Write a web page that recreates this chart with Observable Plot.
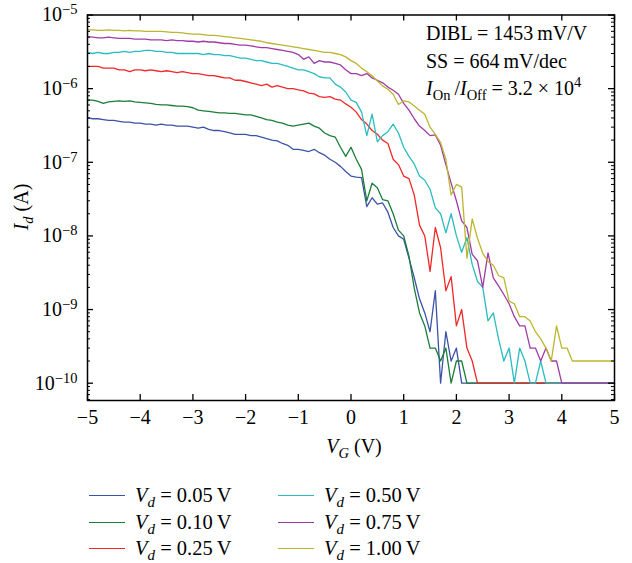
<!DOCTYPE html>
<html><head><meta charset="utf-8">
<script src="https://cdn.jsdelivr.net/npm/d3@7"></script>
<script src="https://cdn.jsdelivr.net/npm/@observablehq/plot@0.6"></script>
<style>
body{margin:0;background:#fff;font-family:"Liberation Serif","Times New Roman",serif;color:#000;}
#wrap{position:relative;width:632px;height:563px;}
#legend{position:absolute;left:89px;top:482px;display:grid;grid-template-columns:189px 200px;grid-auto-flow:column;grid-template-rows:repeat(3,26.7px);font-size:20.5px;}
.item{display:flex;align-items:center;white-space:nowrap;}
.sw{width:36px;height:0;border-top:1.4px solid;margin-right:10px;}
.item sub{font-size:15px;vertical-align:-5px;line-height:0;}
</style></head><body><div id="wrap"><div id="chart"></div><div id="legend"></div></div>
<script>
const Vg = [-5.0,-4.9,-4.8,-4.7,-4.6,-4.5,-4.4,-4.3,-4.2,-4.1,
-4.0,-3.9,-3.8,-3.7,-3.6,-3.5,-3.4,-3.3,-3.2,-3.1,
-3.0,-2.9,-2.8,-2.7,-2.6,-2.5,-2.4,-2.3,-2.2,-2.1,
-2.0,-1.9,-1.8,-1.7,-1.6,-1.5,-1.4,-1.3,-1.2,-1.1,
-1.0,-0.9,-0.8,-0.7,-0.6,-0.5,-0.4,-0.3,-0.2,-0.1,
0.0,0.1,0.2,0.3,0.4,0.5,0.6,0.7,0.8,0.9,
1.0,1.1,1.2,1.3,1.4,1.5,1.6,1.7,1.8,1.9,
2.0,2.1,2.2,2.3,2.4,2.5,2.6,2.7,2.8,2.9,
3.0,3.1,3.2,3.3,3.4,3.5,3.6,3.7,3.8,3.9,
4.0,4.1,4.2,4.3,4.4,4.5,4.6,4.7,4.8,4.9,5.0];

const vdLabels = ["0.05","0.10","0.25","0.50","0.75","1.00"];
const vdColors = ["#3c53a8","#1b7d3a","#f0282a","#2bbcc0","#a03ca6","#bcb52d"];

const Id005 = [4.0e-7,3.9e-7,3.9e-7,3.8e-7,3.7e-7,3.7e-7,3.6e-7,3.5e-7,3.5e-7,3.4e-7,
3.4e-7,3.3e-7,3.3e-7,3.2e-7,3.3e-7,3.2e-7,3.2e-7,3.1e-7,3.1e-7,3.1e-7,
3.0e-7,2.9e-7,3.0e-7,2.8e-7,2.7e-7,2.7e-7,2.6e-7,2.5e-7,2.4e-7,2.4e-7,
2.4e-7,2.3e-7,2.3e-7,2.2e-7,2.1e-7,2.0e-7,1.95e-7,1.8e-7,1.7e-7,1.5e-7,
1.5e-7,1.45e-7,1.4e-7,1.5e-7,1.35e-7,1.25e-7,1.1e-7,1.0e-7,8.8e-8,7.5e-8,
6.5e-8,6.3e-8,6.2e-8,2.5e-8,3.3e-8,2.7e-8,2.8e-8,2.1e-8,1.3e-8,1.0e-8,
9.0e-9,5.0e-9,2.7e-9,1.4e-9,9e-10,5e-10,1.8e-9,1e-10,5e-10,2e-10,
3e-10,1e-10,1e-10,1e-10,1e-10,1e-10,1e-10,1e-10,1e-10,1e-10,
1e-10,1e-10,1e-10,1e-10,1e-10,1e-10,1e-10,1e-10,1e-10,1e-10,
1e-10,1e-10,1e-10,1e-10,1e-10,1e-10,1e-10,1e-10,1e-10,1e-10,1e-10];

const Id010 = [7.0e-7,7.0e-7,6.7e-7,6.3e-7,6.6e-7,6.7e-7,6.8e-7,6.7e-7,6.8e-7,6.6e-7,
6.5e-7,6.4e-7,6.3e-7,6.1e-7,6.0e-7,6.0e-7,5.9e-7,5.8e-7,5.8e-7,5.7e-7,
5.5e-7,5.1e-7,5.0e-7,4.9e-7,4.8e-7,4.7e-7,4.7e-7,4.6e-7,4.6e-7,4.5e-7,
4.4e-7,4.4e-7,4.2e-7,4.0e-7,3.8e-7,3.7e-7,3.5e-7,3.4e-7,3.2e-7,3.1e-7,
3.2e-7,3.3e-7,3.4e-7,3.1e-7,2.9e-7,2.5e-7,2.3e-7,2.2e-7,1.6e-7,1.2e-7,
1.6e-7,1.1e-7,8.0e-8,3.0e-8,5.2e-8,4.5e-8,3.1e-8,3.0e-8,2.0e-8,1.2e-8,
1.0e-8,5.3e-9,1.95e-9,9e-10,6e-10,3e-10,3e-10,2e-10,3e-10,1e-10,
2e-10,2e-10,1e-10,1e-10,1e-10,1e-10,1e-10,1e-10,1e-10,1e-10,
1e-10,1e-10,1e-10,1e-10,1e-10,1e-10,1e-10,1e-10,1e-10,1e-10,
1e-10,1e-10,1e-10,1e-10,1e-10,1e-10,1e-10,1e-10,1e-10,1e-10,1e-10];

const Id025 = [2.0e-6,2.0e-6,2.0e-6,1.9e-6,1.9e-6,1.9e-6,1.8e-6,1.8e-6,1.7e-6,1.8e-6,
1.8e-6,1.75e-6,1.8e-6,1.75e-6,1.7e-6,1.75e-6,1.7e-6,1.65e-6,1.7e-6,1.65e-6,
1.6e-6,1.6e-6,1.55e-6,1.5e-6,1.5e-6,1.45e-6,1.4e-6,1.4e-6,1.3e-6,1.3e-6,
1.25e-6,1.2e-6,1.15e-6,1.1e-6,1.15e-6,1.05e-6,1.1e-6,1.05e-6,1.0e-6,1.0e-6,
9.6e-7,9.3e-7,8.7e-7,8.5e-7,7.8e-7,7.6e-7,7.8e-7,7.2e-7,7.0e-7,6.2e-7,
5.6e-7,4.8e-7,3.8e-7,3.3e-7,2.7e-7,2.4e-7,2.0e-7,1.8e-7,1.1e-7,9.3e-8,
6.5e-8,6.0e-8,3.6e-8,1.4e-8,1.0e-8,3.3e-9,1.3e-8,6.9e-9,1.8e-9,2.8e-9,
6e-10,1e-9,3e-10,2e-10,1e-10,1e-10,1e-10,1e-10,1e-10,1e-10,
1e-10,1e-10,1e-10,1e-10,1e-10,1e-10,1e-10,1e-10,1e-10,1e-10,
1e-10,1e-10,1e-10,1e-10,1e-10,1e-10,1e-10,1e-10,1e-10,1e-10,1e-10];

const Id050 = [3.1e-6,3.0e-6,3.1e-6,3.0e-6,3.0e-6,3.1e-6,3.1e-6,3.2e-6,3.1e-6,3.2e-6,
3.2e-6,3.3e-6,3.3e-6,3.2e-6,3.2e-6,3.1e-6,3.1e-6,3.0e-6,3.0e-6,3.0e-6,
3.0e-6,3.0e-6,2.9e-6,3.0e-6,2.9e-6,2.9e-6,2.8e-6,2.8e-6,2.7e-6,2.6e-6,
2.6e-6,2.5e-6,2.4e-6,2.4e-6,2.3e-6,2.2e-6,2.2e-6,2.1e-6,2.0e-6,1.9e-6,
1.8e-6,1.8e-6,1.7e-6,1.6e-6,1.45e-6,1.4e-6,1.4e-6,1.15e-6,1.05e-6,9.0e-7,
7.0e-7,6.5e-7,4.8e-7,2.3e-7,4.5e-7,1.9e-7,2.3e-7,2.6e-7,3.3e-7,2.5e-7,
1.6e-7,1.2e-7,9.5e-8,6.5e-8,5.7e-8,4.3e-8,2.4e-8,2.0e-8,1.1e-8,2.0e-8,
1.0e-8,6.0e-9,9.5e-9,4.1e-9,2.4e-9,2.0e-9,7e-10,9e-10,4e-10,2e-10,
3e-10,1e-10,3e-10,2e-10,1e-10,1e-10,2e-10,1e-10,1e-10,1e-10,
1e-10,1e-10,1e-10,1e-10,1e-10,1e-10,1e-10,1e-10,1e-10,1e-10,1e-10];

const Id075 = [5.1e-6,5.0e-6,4.9e-6,4.9e-6,5.0e-6,4.9e-6,4.8e-6,4.8e-6,4.8e-6,4.7e-6,
4.7e-6,4.7e-6,4.6e-6,4.6e-6,4.6e-6,4.5e-6,4.6e-6,4.5e-6,4.5e-6,4.4e-6,
4.4e-6,4.3e-6,4.4e-6,4.3e-6,4.3e-6,4.2e-6,4.1e-6,4.1e-6,4.0e-6,3.9e-6,
3.9e-6,3.8e-6,3.7e-6,3.6e-6,3.6e-6,3.5e-6,3.4e-6,3.3e-6,3.2e-6,3.1e-6,
2.9e-6,2.5e-6,2.7e-6,2.2e-6,2.4e-6,2.3e-6,2.3e-6,2.2e-6,2.1e-6,1.8e-6,
1.6e-6,1.6e-6,1.5e-6,1.6e-6,1.4e-6,1.3e-6,1.2e-6,1.05e-6,9.5e-7,8.4e-7,
6.3e-7,5.1e-7,3.9e-7,3.1e-7,2.7e-7,2.3e-7,2.35e-7,1.7e-7,9.3e-8,5.2e-8,
3.0e-8,1.6e-8,1.3e-8,5.6e-9,4.6e-9,2.0e-9,5.9e-9,2.7e-9,2.1e-9,1.6e-9,
1.2e-9,8e-10,6e-10,6e-10,3e-10,3e-10,2e-10,3e-10,2e-10,2e-10,
1e-10,1e-10,1e-10,1e-10,1e-10,1e-10,1e-10,1e-10,1e-10,1e-10,1e-10];

const Id100 = [6.3e-6,6.3e-6,6.2e-6,6.2e-6,6.3e-6,6.2e-6,6.2e-6,6.1e-6,6.2e-6,6.1e-6,
6.1e-6,6.0e-6,6.0e-6,6.0e-6,6.0e-6,5.9e-6,5.8e-6,5.8e-6,5.7e-6,5.6e-6,
5.5e-6,5.5e-6,5.4e-6,5.3e-6,5.3e-6,5.2e-6,5.1e-6,5.0e-6,4.9e-6,4.8e-6,
4.7e-6,4.6e-6,4.5e-6,4.4e-6,4.2e-6,4.1e-6,4.0e-6,3.9e-6,3.8e-6,3.7e-6,
3.6e-6,3.5e-6,3.4e-6,3.3e-6,3.2e-6,3.1e-6,3.1e-6,3.0e-6,2.9e-6,2.7e-6,
2.4e-6,2.2e-6,1.9e-6,1.7e-6,1.5e-6,1.27e-6,1.09e-6,9.8e-7,8.4e-7,6.1e-7,
6.8e-7,6.6e-7,5.8e-7,5.1e-7,4.5e-7,3.0e-7,2.4e-7,1.85e-7,1.1e-7,3.6e-8,
5.0e-8,4.6e-8,5.0e-9,1.7e-8,9.3e-9,5.8e-9,4.5e-9,4.0e-9,2.9e-9,2.7e-9,
1.3e-9,1.2e-9,8e-10,8e-10,7e-10,5e-10,4e-10,3e-10,2e-10,6e-10,
3e-10,3e-10,2e-10,2e-10,2e-10,2e-10,2e-10,2e-10,2e-10,2e-10,2e-10];

const xTicks = [-5,-4,-3,-2,-1,0,1,2,3,4,5];
const yTicks = [1e-10,1e-9,1e-8,1e-7,1e-6,1e-5];
const yMinorMantissas = [2,3,4,5,6,7,8,9];
const xDomain = [-5, 5];
const yDomain = [5.82e-11, 1e-5];

const series = [Id005, Id010, Id025, Id050, Id075, Id100];
const rows = series.flatMap((s, k) => s.map((v, i) => ({Vg: Vg[i], Id: v, Vd: vdLabels[k]})));
const yMinor = [1e-11, ...yTicks].flatMap(d => yMinorMantissas.map(m => m * d))
  .filter(v => v > yDomain[0] && v < yDomain[1]);

// layout
const W = 632, H = 470, mL = 87, mR = 18, mT = 14.5, mB = 70;
const pw = W - mL - mR, ph = H - mT - mB;
// convert an inward tick length in pixels into data units of each scale
const dxTick = px => px * (xDomain[1] - xDomain[0]) / pw;
const yTickF = px => 10 ** (px * Math.log10(yDomain[1] / yDomain[0]) / ph);

const plot = Plot.plot({
  width: W, height: H,
  marginLeft: mL, marginRight: mR, marginTop: mT, marginBottom: mB,
  style: {fontFamily: "'Liberation Serif','Times New Roman',serif", fontSize: "20px", color: "#000", background: "#fff", overflow: "visible"},
  x: {domain: xDomain},
  y: {type: "log", domain: yDomain},
  color: {domain: vdLabels, range: vdColors},
  marks: [
    Plot.lineY(rows, {x: "Vg", y: "Id", stroke: "Vd", strokeWidth: 1.3}),
    // inward ticks on all four sides
    Plot.ruleX(xTicks, {x: d => d, y1: yDomain[0], y2: yDomain[0] * yTickF(6), stroke: "#000", strokeWidth: 1.3}),
    Plot.ruleX(xTicks, {x: d => d, y1: yDomain[1], y2: yDomain[1] / yTickF(6), stroke: "#000", strokeWidth: 1.3}),
    Plot.ruleY(yTicks, {y: d => d, x1: xDomain[0], x2: xDomain[0] + dxTick(6), stroke: "#000", strokeWidth: 1.3}),
    Plot.ruleY(yTicks, {y: d => d, x1: xDomain[1], x2: xDomain[1] - dxTick(6), stroke: "#000", strokeWidth: 1.3}),
    Plot.ruleY(yMinor, {y: d => d, x1: xDomain[0], x2: xDomain[0] + dxTick(3), stroke: "#000", strokeWidth: 1}),
    Plot.ruleY(yMinor, {y: d => d, x1: xDomain[1], x2: xDomain[1] - dxTick(3), stroke: "#000", strokeWidth: 1}),
    Plot.axisX(xTicks, {anchor: "bottom", tickSize: 0, tickPadding: 9.5, label: null, tickFormat: d => d < 0 ? "\u2212" + Math.abs(d) : String(d)}),
    Plot.axisY(yTicks, {anchor: "left", tickSize: 0, tickPadding: 10, label: null, tickFormat: d => "E" + Math.round(Math.log10(d))}),
    Plot.frame({stroke: "#000", strokeWidth: 1.5})
  ]
});
document.getElementById("chart").append(plot);

const svg = d3.select(plot);

// superscript exponents on the y tick labels
svg.selectAll("g[aria-label='y-axis tick label'] text").each(function() {
  const t = d3.select(this);
  const txt = t.text();
  if (!txt.startsWith("E")) return;
  const e = +txt.slice(1);
  t.text("10");
  t.append("tspan").attr("dy", "-0.48em").attr("font-size", "14.5px").text("\u2212" + Math.abs(e));
});

const fs = 20;
function rich(g, x, y, parts, anchor) {
  const t = g.append("text").attr("x", x).attr("y", y).attr("font-size", fs)
    .attr("text-anchor", anchor || "start").attr("fill", "#000");
  let shift = 0;
  for (const p of parts) {
    const s = t.append("tspan").text(p.t);
    const target = p.sub ? 5 : p.sup ? -8 : 0;
    if (target !== shift) { s.attr("dy", target - shift); shift = target; }
    if (p.sub || p.sup) s.attr("font-size", 14.5);
    if (p.i) s.attr("font-style", "italic");
  }
  return t;
}
const ann = svg.append("g");
rich(ann, 426, 40, [{t: "DIBL = 1453\u2009mV/V"}]);
rich(ann, 426, 68, [{t: "SS = 664\u2009mV/dec"}]);
rich(ann, 426, 95, [{t: "I", i: 1}, {t: "On", sub: 1}, {t: "\u2009/"}, {t: "I", i: 1}, {t: "Off", sub: 1}, {t: " = 3.2 \u00d7 10"}, {t: "4", sup: 1}]);
rich(ann, 354, 453, [{t: "V", i: 1}, {t: "G", i: 1, sub: 1}, {t: " (V)"}], "middle");
const yl = ann.append("g").attr("transform", "translate(28,207) rotate(-90)");
rich(yl, 0, 0, [{t: "I", i: 1}, {t: "d", i: 1, sub: 1}, {t: " (A)"}], "middle");

// legend
const legend = d3.select("#legend");
vdLabels.forEach((lab, k) => {
  const it = legend.append("div").attr("class", "item");
  it.append("div").attr("class", "sw").style("border-top-color", vdColors[k]);
  it.append("span").html(`<i>V</i><sub><i>d</i></sub> = ${lab}\u2009V`);
});
</script></body></html>
